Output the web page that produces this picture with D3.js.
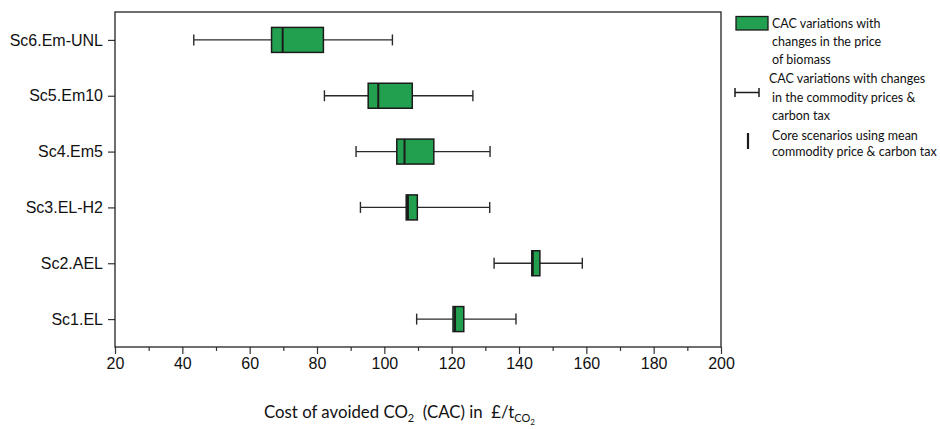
<!DOCTYPE html>
<html><head><meta charset="utf-8">
<script src="https://cdn.jsdelivr.net/npm/d3@7"></script>
<style>
body{margin:0;background:#fff}
svg{display:block}
text{white-space:pre}
</style>
</head><body><svg id="chart" width="940" height="429"></svg>
<script>
// Cost of avoided CO2 per scenario (£/t CO2)
const scenarios   = ["Sc6.Em-UNL", "Sc5.Em10", "Sc4.Em5", "Sc3.EL-H2", "Sc2.AEL", "Sc1.EL"];
const whiskerLow  = [43.4, 82.2, 91.6, 92.9, 132.6, 109.6];   // commodity price & carbon tax range, low
const boxLow      = [66.5, 95.2, 103.7, 106.5, 143.8, 120.4]; // biomass price range, low
const coreValue   = [69.8, 98.2, 106.0, 107.0, 144.1, 121.0]; // core scenario, mean prices
const boxHigh     = [81.9, 108.3, 114.7, 109.8, 146.2, 123.6];// biomass price range, high
const whiskerHigh = [102.4, 126.3, 131.4, 131.3, 158.8, 139.1];// commodity price & carbon tax range, high
const xMajorTicks = [20, 40, 60, 80, 100, 120, 140, 160, 180, 200];
const xMinorTicks = [30, 50, 70, 90, 110, 130, 150, 170, 190];
const legendLabels = [
  ["CAC variations with", "changes in the price", "of biomass"],
  ["CAC variations with changes", "in the commodity prices &", "carbon tax"],
  ["Core scenarios using mean", "commodity price & carbon tax"]
];

const rows = scenarios.map((s, i) => ({
  name: s, wl: whiskerLow[i], bl: boxLow[i], core: coreValue[i], bh: boxHigh[i], wh: whiskerHigh[i]
}));

const plot = {left: 115, right: 721, top: 12, bottom: 347};
const svg = d3.select("#chart");
const x = d3.scaleLinear().domain([20, 200]).range([plot.left, plot.right]);
const y = d3.scalePoint().domain(scenarios).range([plot.top, plot.bottom]).padding(0.5);

const green = "#22a04f";
const dark = "#1b1b1b";
const axisFont = "'Liberation Sans', Arial, sans-serif";
const textFont = "Lato, 'Open Sans', sans-serif";

// x axis: major ticks with labels, minor ticks without
const gxMinor = svg.append("g").attr("transform", `translate(0,${plot.bottom})`)
  .call(d3.axisBottom(x).tickValues(xMinorTicks).tickSize(4).tickFormat(""));
const gx = svg.append("g").attr("transform", `translate(0,${plot.bottom})`)
  .call(d3.axisBottom(x).tickValues(xMajorTicks).tickSize(7).tickPadding(4).tickFormat(d3.format("d")));
[gx, gxMinor].forEach(g => {
  g.select(".domain").remove();
  g.selectAll("line").attr("stroke", "#333").attr("stroke-width", 1.2);
});
gx.selectAll("text").attr("font-family", axisFont).attr("font-size", 16).attr("fill", "#111");

// y axis
const gy = svg.append("g").attr("transform", `translate(${plot.left},0)`)
  .call(d3.axisLeft(y).tickSize(7).tickPadding(5));
gy.select(".domain").remove();
gy.selectAll("line").attr("stroke", "#333").attr("stroke-width", 1.2);
gy.selectAll("text").attr("font-family", axisFont).attr("font-size", 16).attr("fill", "#111");

// frame
svg.append("rect")
  .attr("x", plot.left).attr("y", plot.top)
  .attr("width", plot.right - plot.left).attr("height", plot.bottom - plot.top)
  .attr("fill", "none").attr("stroke", "#222").attr("stroke-width", 1.3);

// box + whisker rows
const boxH = 25, capH = 11;
const g = svg.append("g").selectAll("g").data(rows).join("g")
  .attr("transform", d => `translate(0,${y(d.name)})`);

g.append("line").attr("x1", d => x(d.wl)).attr("x2", d => x(d.wh)).attr("y1", 0).attr("y2", 0)
  .attr("stroke", "#2a2a2a").attr("stroke-width", 1.4);
g.append("line").attr("x1", d => x(d.wl)).attr("x2", d => x(d.wl)).attr("y1", -capH / 2).attr("y2", capH / 2)
  .attr("stroke", "#2a2a2a").attr("stroke-width", 1.4);
g.append("line").attr("x1", d => x(d.wh)).attr("x2", d => x(d.wh)).attr("y1", -capH / 2).attr("y2", capH / 2)
  .attr("stroke", "#2a2a2a").attr("stroke-width", 1.4);
g.append("rect").attr("x", d => x(d.bl)).attr("width", d => x(d.bh) - x(d.bl))
  .attr("y", -boxH / 2).attr("height", boxH)
  .attr("fill", green).attr("stroke", dark).attr("stroke-width", 1.5);
g.append("line").attr("x1", d => x(d.core)).attr("x2", d => x(d.core))
  .attr("y1", -boxH / 2).attr("y2", boxH / 2)
  .attr("stroke", dark).attr("stroke-width", 2);

// x axis title
const title = svg.append("text").attr("x", 264).attr("y", 418)
  .attr("font-family", textFont).attr("font-size", 16.8).attr("fill", "#111");
title.append("tspan").text("Cost of avoided CO");
title.append("tspan").attr("font-size", 11).attr("dy", 4).text("2");
title.append("tspan").attr("dy", -4).text("  (CAC) in  £/t");
title.append("tspan").attr("font-size", 11).attr("dy", 4).text("CO");
title.append("tspan").attr("font-size", 8).attr("dy", 3).text("2");

// legend
const lg = svg.append("g");
lg.append("rect").attr("x", 736).attr("y", 16.5).attr("width", 32).attr("height", 13.5)
  .attr("fill", green).attr("stroke", dark).attr("stroke-width", 1.3);
lg.append("line").attr("x1", 735).attr("x2", 759).attr("y1", 92.5).attr("y2", 92.5)
  .attr("stroke", dark).attr("stroke-width", 1.5);
[735, 759].forEach(xx => lg.append("line").attr("x1", xx).attr("x2", xx).attr("y1", 88).attr("y2", 97)
  .attr("stroke", dark).attr("stroke-width", 1.5));
lg.append("line").attr("x1", 748).attr("x2", 748).attr("y1", 133).attr("y2", 149)
  .attr("stroke", dark).attr("stroke-width", 2.2);

const legendLines = [
  {t: legendLabels[0][0], x: 772, y: 28}, {t: legendLabels[0][1], x: 772, y: 46}, {t: legendLabels[0][2], x: 772, y: 64},
  {t: legendLabels[1][0], x: 769, y: 83}, {t: legendLabels[1][1], x: 772, y: 102}, {t: legendLabels[1][2], x: 772, y: 120},
  {t: legendLabels[2][0], x: 772, y: 140}, {t: legendLabels[2][1], x: 772, y: 156}
];
lg.selectAll("text.leg").data(legendLines).join("text").attr("class", "leg")
  .attr("x", d => d.x).attr("y", d => d.y).text(d => d.t)
  .attr("font-family", textFont).attr("font-size", 12.5).attr("fill", "#111");
</script>
</body></html>
